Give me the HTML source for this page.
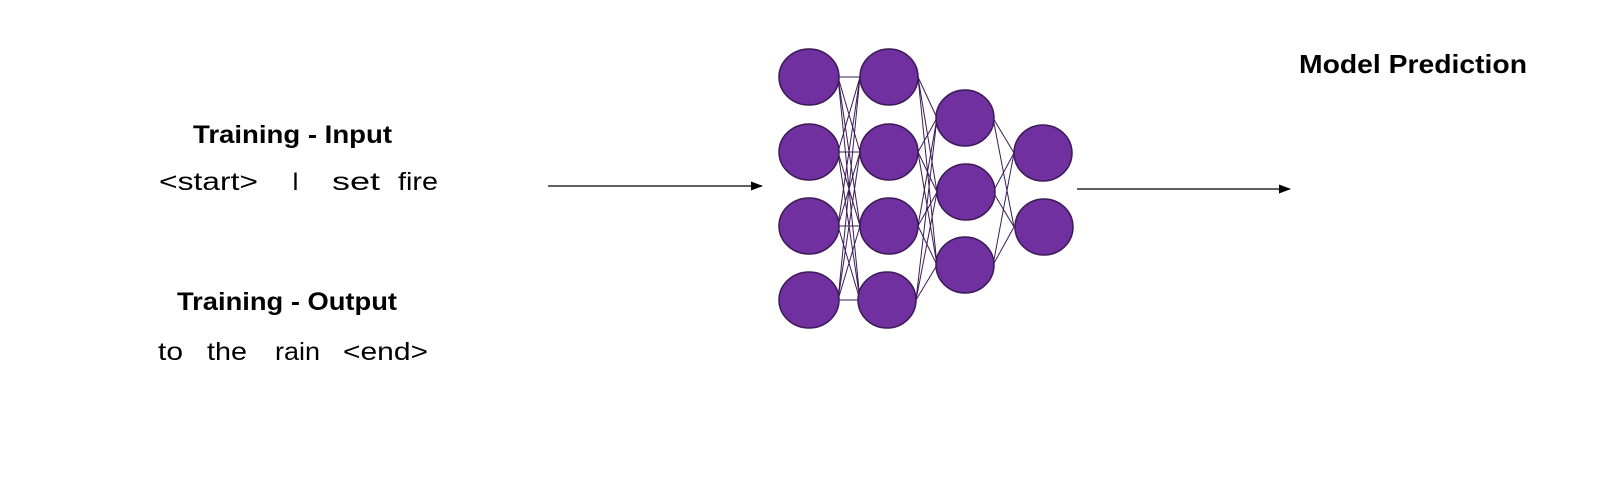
<!DOCTYPE html>
<html><head><style>
body{margin:0;background:#fff;}
svg text{font-family:"Liberation Sans",Arial,sans-serif;fill:#000;}
</style></head><body>
<svg width="1600" height="480" viewBox="0 0 1600 480" xmlns="http://www.w3.org/2000/svg">
<defs><marker id="a" markerWidth="12" markerHeight="9" refX="11" refY="4.5" orient="auto" markerUnits="userSpaceOnUse"><path d="M0,0 L12,4.5 L0,9 z" fill="#000"/></marker></defs>
<g stroke="#3b1a55" stroke-width="1">
<line x1="838" y1="77" x2="860" y2="77"/><line x1="838" y1="77" x2="860" y2="152"/><line x1="838" y1="77" x2="860" y2="226"/><line x1="838" y1="77" x2="860" y2="300"/>
<line x1="838" y1="152" x2="860" y2="77"/><line x1="838" y1="152" x2="860" y2="152"/><line x1="838" y1="152" x2="860" y2="226"/><line x1="838" y1="152" x2="860" y2="300"/>
<line x1="838" y1="226" x2="860" y2="77"/><line x1="838" y1="226" x2="860" y2="152"/><line x1="838" y1="226" x2="860" y2="226"/><line x1="838" y1="226" x2="860" y2="300"/>
<line x1="838" y1="300" x2="860" y2="77"/><line x1="838" y1="300" x2="860" y2="152"/><line x1="838" y1="300" x2="860" y2="226"/><line x1="838" y1="300" x2="860" y2="300"/>
<line x1="918" y1="77" x2="937" y2="118"/><line x1="918" y1="77" x2="937" y2="192"/><line x1="918" y1="77" x2="937" y2="265"/>
<line x1="918" y1="152" x2="937" y2="118"/><line x1="918" y1="152" x2="937" y2="192"/><line x1="918" y1="152" x2="937" y2="265"/>
<line x1="918" y1="226" x2="937" y2="118"/><line x1="918" y1="226" x2="937" y2="192"/><line x1="918" y1="226" x2="937" y2="265"/>
<line x1="916" y1="300" x2="937" y2="118"/><line x1="916" y1="300" x2="937" y2="192"/><line x1="916" y1="300" x2="937" y2="265"/>
<line x1="993" y1="118" x2="1014" y2="153"/><line x1="993" y1="118" x2="1014" y2="227"/>
<line x1="993" y1="192" x2="1014" y2="153"/><line x1="993" y1="192" x2="1014" y2="227"/>
<line x1="993" y1="265" x2="1014" y2="153"/><line x1="993" y1="265" x2="1014" y2="227"/>
</g>
<g fill="#7030A0" stroke="#3b1a55" stroke-width="1.5">
<ellipse cx="809" cy="77" rx="30" ry="28"/><ellipse cx="809" cy="152" rx="30" ry="28"/><ellipse cx="809" cy="226" rx="30" ry="28"/><ellipse cx="809" cy="300" rx="30" ry="28"/>
<ellipse cx="889" cy="77" rx="29" ry="28"/><ellipse cx="889" cy="152" rx="29" ry="28"/><ellipse cx="889" cy="226" rx="29" ry="28"/><ellipse cx="887" cy="300" rx="29" ry="28"/>
<ellipse cx="965" cy="118" rx="29" ry="28"/><ellipse cx="966" cy="192" rx="29" ry="28"/><ellipse cx="965" cy="265" rx="29" ry="28"/>
<ellipse cx="1043" cy="153" rx="29" ry="28"/><ellipse cx="1044" cy="227" rx="29" ry="28"/>
</g>
<line x1="548" y1="186" x2="762" y2="186" stroke="#000" stroke-width="1.3" marker-end="url(#a)"/>
<line x1="1077" y1="189" x2="1290" y2="189" stroke="#000" stroke-width="1.3" marker-end="url(#a)"/>
<text x="193" y="143" font-size="25" font-weight="bold" textLength="199" lengthAdjust="spacingAndGlyphs">Training - Input</text>
<g font-size="25">
<text x="159" y="190" textLength="99" lengthAdjust="spacingAndGlyphs">&lt;start&gt;</text>
<text x="292" y="190">I</text>
<text x="332" y="190" textLength="48" lengthAdjust="spacingAndGlyphs">set</text>
<text x="398" y="190" textLength="40" lengthAdjust="spacingAndGlyphs">fire</text>
</g>
<text x="177" y="310" font-size="25" font-weight="bold" textLength="220" lengthAdjust="spacingAndGlyphs">Training - Output</text>
<g font-size="25">
<text x="158" y="360" textLength="25" lengthAdjust="spacingAndGlyphs">to</text>
<text x="207" y="360" textLength="40" lengthAdjust="spacingAndGlyphs">the</text>
<text x="275" y="360" textLength="45" lengthAdjust="spacingAndGlyphs">rain</text>
<text x="343" y="360" textLength="85" lengthAdjust="spacingAndGlyphs">&lt;end&gt;</text>
</g>
<text x="1299" y="73" font-size="26" font-weight="bold" textLength="228" lengthAdjust="spacingAndGlyphs">Model Prediction</text>
</svg>
</body></html>
